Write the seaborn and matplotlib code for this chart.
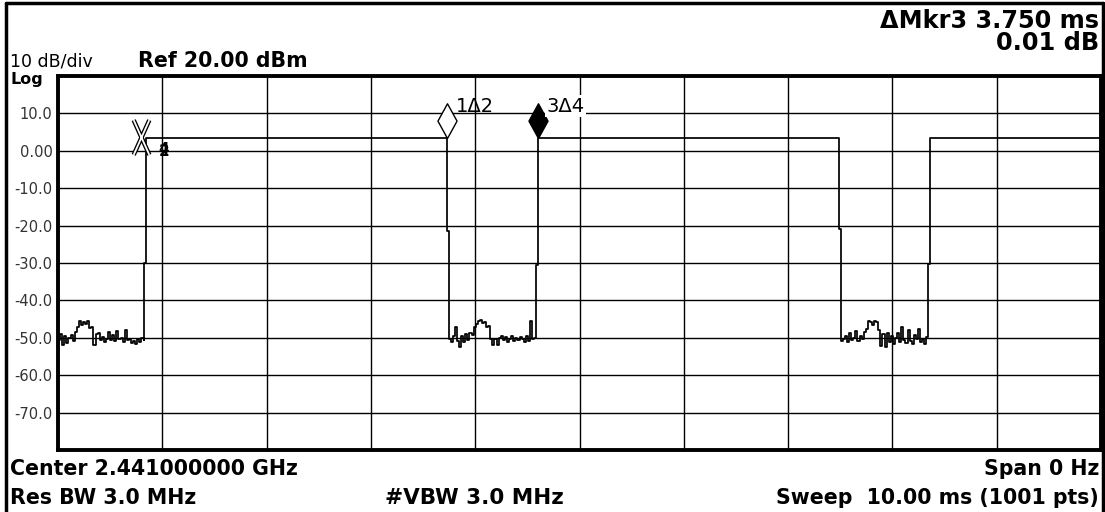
import numpy as np
import pandas as pd
import matplotlib
matplotlib.use("Agg")
import matplotlib.pyplot as plt
import matplotlib.transforms as mtransforms
from matplotlib.path import Path
from matplotlib.lines import Line2D
import seaborn as sns

noise_step = 0.02

noise1_start = 0.0
noise1 = [-50.5, -49.0, -51.8, -49.5, -51.5, -50.0, -49.2, -50.8, -48.5, -47.0,
          -45.5, -46.5, -45.8, -46.2, -45.6, -47.5, -47.2, -51.8, -49.0, -48.6,
          -50.5, -49.8, -51.2, -50.2, -48.4, -50.6, -49.2, -50.8, -48.2, -50.4,
          -50.0, -51.0, -48.0, -50.6, -50.2, -51.4, -50.8, -51.6, -50.2, -51.2,
          -50.0, -50.6]

noise2_start = 3.745
noise2 = [-50.2, -51.0, -49.4, -47.2, -50.8, -52.4, -49.6, -51.2, -49.0, -50.6,
          -48.6, -49.2, -47.0, -46.4, -45.6, -45.2, -46.0, -45.8, -47.0, -46.8,
          -50.2, -51.8, -50.4, -52.0, -50.0, -49.4, -50.6, -49.8, -51.0, -50.2,
          -49.6, -50.8, -50.0, -50.6, -49.8, -50.4, -51.0, -49.6, -50.8, -45.6,
          -50.4, -50.0]

noise3_start = 7.505
noise3 = [-50.8, -50.4, -49.6, -51.0, -48.8, -50.6, -50.0, -48.2, -50.8, -49.6,
          -50.2, -48.4, -47.6, -45.4, -45.8, -46.6, -45.6, -45.8, -47.8, -52.2,
          -49.0, -52.4, -48.6, -51.0, -49.4, -51.6, -50.0, -48.8, -51.2, -47.2,
          -50.6, -51.4, -48.0, -50.8, -51.6, -49.2, -50.4, -47.6, -51.2, -50.2,
          -51.6, -49.8]

high_level = 3.4
edge1_t = [0.825, 0.84, 3.727]
edge1_db = [-30.0, high_level, -21.5]
edge2_t = [4.585, 4.60, 7.488]
edge2_db = [-30.5, high_level, -21.0]
edge3_t = [8.345, 8.36, 10.0]
edge3_db = [-30.3, high_level, high_level]

mkr_t = {"1": 3.727, "2": 0.84, "3": 4.60, "4": 0.84}

y_ticks = [10, 0, -10, -20, -30, -40, -50, -60, -70]
y_tick_labels = ["10.0", "0.00", "-10.0", "-20.0", "-30.0", "-40.0", "-50.0", "-60.0", "-70.0"]


def seg_times(start, vals):
    return [start + i * noise_step for i in range(len(vals))]


times = (seg_times(noise1_start, noise1) + edge1_t + seg_times(noise2_start, noise2)
         + edge2_t + seg_times(noise3_start, noise3) + edge3_t)
levels = noise1 + edge1_db + noise2 + edge2_db + noise3 + edge3_db
df = pd.DataFrame({"Time (ms)": times, "Level (dBm)": levels})

sns.set_style("white")
plt.rcParams["font.family"] = ["DejaVu Sans"]
plt.rcParams["text.color"] = "black"

W, H = 1105, 512
fig = plt.figure(figsize=(W / 100, H / 100), dpi=100)
ax = fig.add_axes([58 / W, 1 - 450 / H, (1101 - 58) / W, (450 - 76) / H])

sns.lineplot(data=df, x="Time (ms)", y="Level (dBm)", ax=ax, color="black", lw=1.25,
             drawstyle="steps-post", estimator=None, sort=False, legend=False)

ax.set_xlim(0, 10)
ax.set_ylim(-80, 20)
ax.set_xticks(range(0, 11))
ax.set_xticklabels([])
ax.set_yticks(y_ticks)
ax.set_yticklabels(y_tick_labels)
ax.set_xlabel("")
ax.set_ylabel("")
ax.set_axisbelow(True)
ax.grid(True, color="black", lw=1)
ax.tick_params(length=0, pad=4, labelsize=10.5, labelcolor="#333333")
for s in ax.spines.values():
    s.set_visible(True)
    s.set_color("black")
    s.set_linewidth(2.8)

# delta markers: diamonds sit with their tip on the trace
diamond = Path([(0, 0), (0.55, 1), (0, 2), (-0.55, 1), (0, 0)],
               [Path.MOVETO, Path.LINETO, Path.LINETO, Path.LINETO, Path.CLOSEPOLY])
ax.plot([mkr_t["1"]], [high_level], marker=diamond, ms=50, mfc="white", mec="black",
        mew=1, ls="none", zorder=5)
ax.plot([mkr_t["3"]], [high_level], marker=diamond, ms=50, mfc="black", mec="black",
        mew=1, ls="none", zorder=5)
ax.annotate("1Δ2", xy=(mkr_t["1"], high_level), xytext=(9 * 0.72, 26.5 * 0.72),
            textcoords="offset points", fontsize=14, va="baseline", ha="left", zorder=6)
ax.annotate("3Δ4", xy=(mkr_t["3"], high_level), xytext=(9 * 0.72, 26.5 * 0.72),
            textcoords="offset points", fontsize=14, va="baseline", ha="left", zorder=6,
            bbox=dict(facecolor="white", edgecolor="none", pad=1))

# reference markers 2 and 4 (hollow X)
cross = Path([(-0.45, -1), (0.45, 1), (-0.45, 1), (0.45, -1)],
             [Path.MOVETO, Path.LINETO, Path.MOVETO, Path.LINETO])
x_trans = mtransforms.offset_copy(ax.transData, fig=fig, x=-4.5, y=1.5, units="dots")
ax.plot([mkr_t["2"]], [high_level], marker=cross, ms=25, mfc="none", mec="black",
        mew=3.2, ls="none", transform=x_trans, zorder=5)
ax.plot([mkr_t["2"]], [high_level], marker=cross, ms=25, mfc="none", mec="white",
        mew=1.3, ls="none", transform=x_trans, zorder=6)
for lab, dy in [("2", -18), ("4", -16)]:
    ax.annotate(lab, xy=(mkr_t[lab], high_level), xytext=(13 * 0.72, dy * 0.72),
                textcoords="offset points", fontsize=11, fontweight="bold",
                va="baseline", ha="left", zorder=6)


def px(x, y):
    return x / W, 1 - y / H


fig.text(*px(10, 66), "10 dB/div", fontsize=12.5, va="baseline")
fig.text(*px(138, 67), "Ref 20.00 dBm", fontsize=14.8, fontweight="bold", va="baseline")
fig.text(*px(10, 84), "Log", fontsize=11.5, fontweight="bold", va="baseline")
fig.text(*px(1099, 28), "ΔMkr3 3.750 ms", fontsize=17.3, fontweight="bold", va="baseline", ha="right")
fig.text(*px(1099, 50), "0.01 dB", fontsize=17.3, fontweight="bold", va="baseline", ha="right")
fig.text(*px(10, 475), "Center 2.441000000 GHz", fontsize=14.8, fontweight="bold", va="baseline")
fig.text(*px(1099, 475), "Span 0 Hz", fontsize=14.8, fontweight="bold", va="baseline", ha="right")
fig.text(*px(10, 504), "Res BW 3.0 MHz", fontsize=14.8, fontweight="bold", va="baseline")
fig.text(*px(385, 504), "#VBW 3.0 MHz", fontsize=15.5, fontweight="bold", va="baseline")
fig.text(*px(1099, 504), "Sweep  10.00 ms (1001 pts)", fontsize=14.8, fontweight="bold",
         va="baseline", ha="right")

# outer screen frame
for xs, ys in [([6, 6], [H, 3]), ([6, 1103], [3, 3]), ([1103, 1103], [3, H])]:
    fig.add_artist(Line2D([x / W for x in xs], [1 - y / H for y in ys],
                          transform=fig.transFigure, color="black", lw=2.5))

fig.savefig("out.png", dpi=100)
plt.close(fig)
